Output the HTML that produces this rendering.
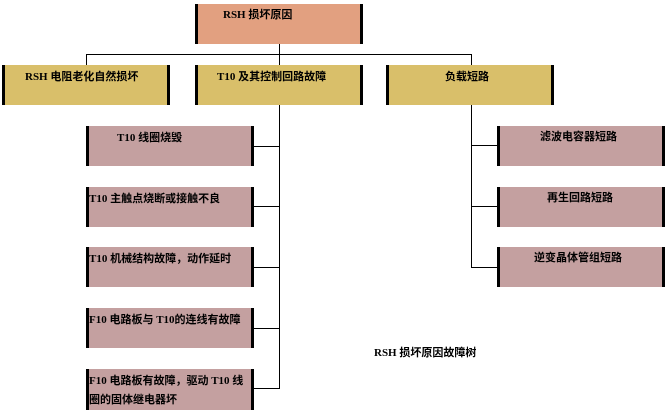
<!DOCTYPE html>
<html><head><meta charset="utf-8"><style>
body{margin:0;width:668px;height:414px;background:#fff;position:relative;overflow:hidden;font-family:"Liberation Serif","Noto Sans CJK SC",serif;font-weight:bold;font-size:11px;color:#000}
.b{position:absolute;box-sizing:border-box;border-left:3px solid #000;border-right:3px solid #000;white-space:nowrap;line-height:15px}
.o{background:#e2a080}
.y{background:#d9bf6a}
.p{background:#c4a0a0}
.l{position:absolute;background:#000}
</style></head><body>
<div class="l" style="left:279px;top:44px;width:1px;height:10px"></div>
<div class="l" style="left:86px;top:54px;width:386px;height:1px"></div>
<div class="l" style="left:86px;top:54px;width:1px;height:11px"></div>
<div class="l" style="left:279px;top:54px;width:1px;height:11px"></div>
<div class="l" style="left:471px;top:54px;width:1px;height:11px"></div>
<div class="l" style="left:279px;top:104px;width:1px;height:285px"></div>
<div class="l" style="left:471px;top:104px;width:1px;height:164px"></div>
<div class="l" style="left:253px;top:146px;width:27px;height:1px"></div>
<div class="l" style="left:253px;top:206px;width:27px;height:1px"></div>
<div class="l" style="left:253px;top:267px;width:27px;height:1px"></div>
<div class="l" style="left:253px;top:328px;width:27px;height:1px"></div>
<div class="l" style="left:253px;top:388px;width:27px;height:1px"></div>
<div class="l" style="left:471px;top:145px;width:27px;height:1px"></div>
<div class="l" style="left:471px;top:206px;width:27px;height:1px"></div>
<div class="l" style="left:471px;top:267px;width:27px;height:1px"></div>

<div class="b o" style="left:195px;top:4px;width:168px;height:40px;padding:4px 0 0 25px">RSH 损坏原因</div>
<div class="b y" style="left:2px;top:65px;width:168px;height:40px;padding:5px 0 0 20px">RSH 电阻老化自然损坏</div>
<div class="b y" style="left:195px;top:65px;width:168px;height:40px;padding:5px 0 0 19px">T10 及其控制回路故障</div>
<div class="b y" style="left:386px;top:65px;width:168px;height:40px;padding:5px 0 0 56px">负载短路</div>

<div class="b p" style="left:86px;top:126px;width:168px;height:40px;padding:5px 0 0 28px">T10 线圈烧毁</div>
<div class="b p" style="left:86px;top:187px;width:168px;height:40px;padding:5px 0 0 0">T10 主触点烧断或接触不良</div>
<div class="b p" style="left:86px;top:247px;width:168px;height:40px;padding:5px 0 0 0">T10 机械结构故障，动作延时</div>
<div class="b p" style="left:86px;top:308px;width:168px;height:40px;padding:5px 0 0 0;overflow:hidden">F10 电路板与 T10的连线有故障</div>
<div class="b p" style="left:86px;top:369px;width:168px;height:41px;padding:3px 0 0 0;white-space:normal;line-height:19px">F10 电路板有故障，驱动 T10 线圈的固体继电器坏</div>

<div class="b p" style="left:497px;top:126px;width:168px;height:40px;padding:4px 0 0 40px">滤波电容器短路</div>
<div class="b p" style="left:497px;top:187px;width:168px;height:40px;padding:4px 0 0 47px">再生回路短路</div>
<div class="b p" style="left:497px;top:247px;width:168px;height:40px;padding:4px 0 0 34px">逆变晶体管组短路</div>

<div style="position:absolute;left:374px;top:346px;line-height:15px">RSH 损坏原因故障树</div>
</body></html>
